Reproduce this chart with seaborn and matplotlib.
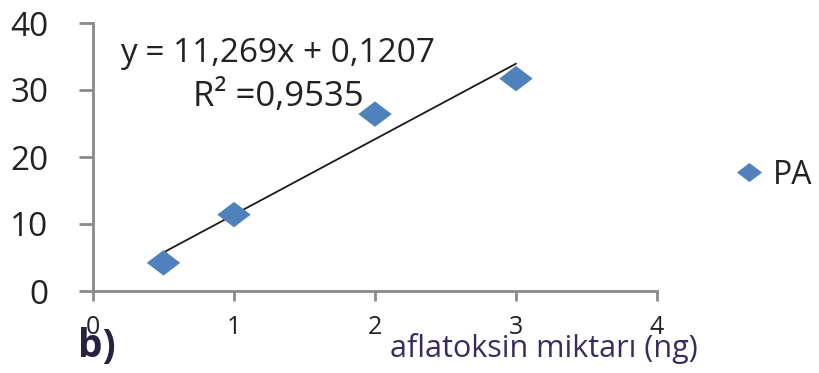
import numpy as np
import pandas as pd
import matplotlib
matplotlib.use("Agg")
import matplotlib.pyplot as plt
from matplotlib.path import Path
import seaborn as sns

# Calibration data: aflatoxin amount (ng) vs detector response
amount_ng = [0.5, 1, 2, 3]
response = [4.2, 11.4, 26.4, 31.7]
series_name = "PA"

# Linear trendline as reported on the chart
slope = 11.269
intercept = 0.1207
r_squared = 0.9535

x_ticks = [0, 1, 2, 3, 4]
y_ticks = [0, 10, 20, 30, 40]

sns.set_theme(style="white")
plt.rcParams["font.family"] = ["Open Sans", "DejaVu Sans"]

W, H = 820, 373
fig = plt.figure(figsize=(W / 100, H / 100), dpi=100)
ax = fig.add_axes([93 / W, (H - 291) / H, (657 - 93) / W, (291 - 23) / H])

df = pd.DataFrame({"x": amount_ng, "y": response, "series": series_name})

# Wide diamond marker
diamond = Path([(-1, 0), (0, 0.76), (1, 0), (0, -0.76), (-1, 0)],
               [Path.MOVETO, Path.LINETO, Path.LINETO, Path.LINETO, Path.CLOSEPOLY])

sns.scatterplot(data=df, x="x", y="y", hue="series", palette=["#4F81BD"],
                marker=diamond, s=580, edgecolor="none", ax=ax, zorder=3)

# Trendline over the measured range
fit_x = np.array([min(amount_ng), max(amount_ng)])
fit_y = slope * fit_x + intercept
sns.lineplot(x=fit_x, y=fit_y, color="#1a1a1a", linewidth=1.3, ax=ax, zorder=2,
             legend=False)

ax.set_xlim(x_ticks[0], x_ticks[-1])
ax.set_ylim(y_ticks[0], y_ticks[-1])
ax.set_xticks(x_ticks)
ax.set_yticks(y_ticks)
ax.set_xticklabels([str(v) for v in x_ticks])
ax.set_yticklabels([str(v) for v in y_ticks])

for side in ["top", "right"]:
    ax.spines[side].set_visible(False)
for side in ["left", "bottom"]:
    ax.spines[side].set_color("#8a8a8a")
    ax.spines[side].set_linewidth(2)

ax.tick_params(axis="y", direction="out", length=10, width=2, color="#8a8a8a",
               pad=22, labelsize=24, labelcolor="#222222", left=True)
ax.tick_params(axis="x", direction="out", length=7, width=2, color="#8a8a8a",
               pad=10, labelsize=18, labelcolor="#222222", bottom=True)

ax.set_ylabel("")
ax.set_xlabel("aflatoksin miktarı (ng)", fontsize=22, color="#3a2c5c")
ax.xaxis.set_label_coords(0.80, -0.155)

fmt = lambda v: f"{v}".replace(".", ",")
ax.text(0.19, 35.4, f"y = {fmt(slope)}x + {fmt(intercept)}", fontsize=24,
        color="#222222", va="center", ha="left")
ax.text(0.71, 29.0, f"R² ={fmt(r_squared)}", fontsize=25,
        color="#222222", va="center", ha="left")

leg = ax.legend(loc="center left", bbox_to_anchor=(733 / W, (H - 175) / H),
                bbox_transform=fig.transFigure, frameon=False, fontsize=23,
                handlelength=1.0, handletextpad=0.25, markerscale=0.75,
                borderaxespad=0, borderpad=0)
for t in leg.get_texts():
    t.set_color("#222222")

fig.text(78 / W, (H - 346) / H, "b)", fontsize=28, fontweight="bold",
         color="#2a2140", va="center", ha="left")

fig.savefig("out.png", dpi=100, facecolor="white")
